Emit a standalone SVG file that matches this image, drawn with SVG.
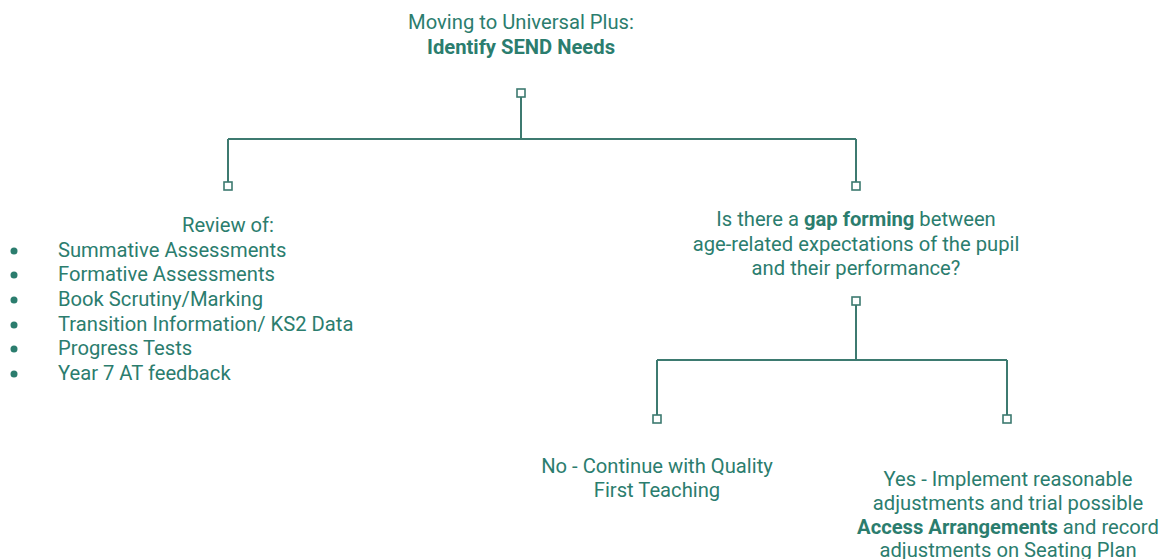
<svg xmlns="http://www.w3.org/2000/svg" width="1163" height="559" viewBox="0 0 1163 559">
<style>
text{font-family:Roboto,"Noto Sans","Liberation Sans",sans-serif;font-size:20.2px;fill:#2b7d6e}
.c{text-anchor:middle}
.b{font-weight:bold}
.ln{fill:none;stroke:#3d7a70;stroke-width:2}
.sq{fill:#fff;stroke:#3d7a70;stroke-width:1.6}
</style>
<rect width="1163" height="559" fill="#fff"/>
<g id="connectors">
<path class="ln" d="M521 97V139M228 139H856M228 139V182M856 139V182"/>
<path class="ln" d="M856 305V360M657 360H1007M657 360V415M1007 360V415"/>
<rect class="sq" x="517" y="89" width="8" height="8"/>
<rect class="sq" x="224" y="182" width="8" height="8"/>
<rect class="sq" x="852" y="182" width="8" height="8"/>
<rect class="sq" x="852" y="297" width="8" height="8"/>
<rect class="sq" x="653" y="415" width="8" height="8"/>
<rect class="sq" x="1003" y="415" width="8" height="8"/>
</g>
<g id="n-title">
<text class="c" x="521" y="29">Moving to Universal Plus:</text>
<text class="c b" x="521" y="54">Identify SEND Needs</text>
</g>
<g id="n-review">
<text class="c" x="228" y="232">Review of:</text>
<g fill="#2b7d6e">
<circle cx="14" cy="251" r="3.5"/>
<circle cx="14" cy="275" r="3.5"/>
<circle cx="14" cy="300" r="3.5"/>
<circle cx="14" cy="325" r="3.5"/>
<circle cx="14" cy="349" r="3.5"/>
<circle cx="14" cy="374" r="3.5"/>
</g>
<text x="58" y="257">Summative Assessments</text>
<text x="58" y="281">Formative Assessments</text>
<text x="58" y="306">Book Scrutiny/Marking</text>
<text x="58" y="331">Transition Information/ KS2 Data</text>
<text x="58" y="355">Progress Tests</text>
<text x="58" y="380">Year 7 AT feedback</text>
</g>
<g id="n-gap">
<text class="c" x="856" y="226">Is there a <tspan class="b">gap forming</tspan> between</text>
<text class="c" x="856" y="251">age-related expectations of the pupil</text>
<text class="c" x="856" y="275">and their performance?</text>
</g>
<g id="n-no">
<text class="c" x="657" y="473">No - Continue with Quality</text>
<text class="c" x="657" y="497">First Teaching</text>
</g>
<g id="n-yes">
<text class="c" x="1008" y="486">Yes - Implement reasonable</text>
<text class="c" x="1008" y="510">adjustments and trial possible</text>
<text class="c" x="1008" y="534"><tspan class="b">Access Arrangements</tspan> and record</text>
<text class="c" x="1008" y="557">adjustments on Seating Plan</text>
</g>
</svg>
